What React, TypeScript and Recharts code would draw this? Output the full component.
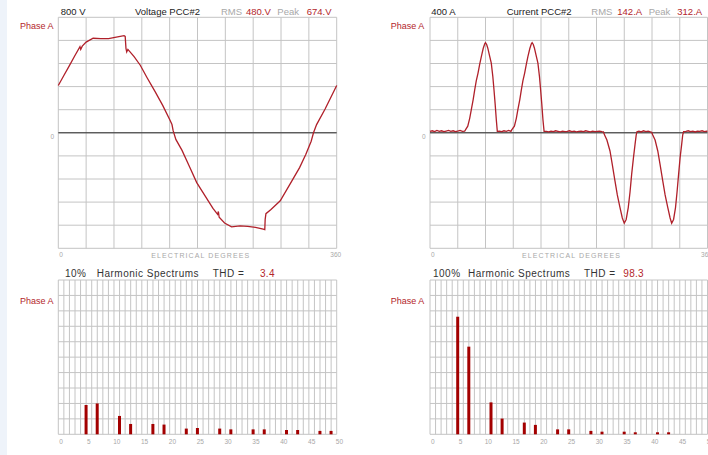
import React from 'react';
import { LineChart, Line, BarChart, Bar, XAxis, YAxis, CartesianGrid, ReferenceLine } from 'recharts';

const FONT = "'Liberation Sans', Arial, Helvetica, sans-serif";
const RED_TEXT = '#b3262b';
const GRAY_TEXT = '#a8a8a8';
const DARK_TEXT = '#222222';
const GRID = '#c4c4c4';
const WAVE = '#b0202a';
const BAR = '#a30000';

// ---- waveform data ----
const voltageDegrees = [0, 7, 14, 21, 28, 29, 31, 36, 45, 55, 65, 75, 85, 86.5, 87.5, 88.5, 90, 98, 106, 115, 125, 135, 144, 147, 148.5, 152, 160, 170, 179, 190, 200, 206, 207, 208, 215, 224, 235, 245, 255, 265, 267, 267.5, 268.5, 275, 287, 300, 312, 320, 327, 330, 334, 345, 360];
const voltageValues = [328, 395, 462, 530, 597, 578, 600, 628, 655, 652, 652, 662, 673, 668, 585, 560, 578, 528, 468, 380, 287, 190, 92, 57, 15, -46, -122, -239, -345, -438, -524, -565, -545, -585, -625, -651, -645, -648, -655, -667, -670, -600, -560, -531, -471, -352, -241, -150, -58, 0, 57, 165, 328];

const currentDegrees = [
  0, 3, 6, 9, 12, 15, 18, 21, 24, 27, 30, 33, 36, 39, 42, 45,
  46, 49, 51.5, 53.6, 56, 58, 60, 62.3, 64.5, 66.6, 69, 71, 72, 73.5, 75, 77, 79.5, 81.5, 83, 84.5, 86, 87.3,
  90, 93, 96, 99, 102, 105,
  106, 109.5, 112, 114, 116.5, 118.5, 120.5, 122.8, 125, 127, 129.5, 131.5, 132.5, 134, 135.5, 137.5, 140, 142, 143.5, 145, 146.5, 148,
  151, 154, 157, 160, 163, 166, 169, 172, 175, 178, 181, 184, 187, 190, 193, 196, 199, 202, 205, 208, 211, 214, 217, 220, 223,
  225, 226.5, 229.5, 233.5, 236.5, 240, 243, 246.5, 249.5, 252, 254.5, 257.2, 259.5, 261.6, 264, 266, 267.5, 268.5,
  271, 274, 277, 280, 283, 286,
  287.5, 289, 292, 295.5, 298.5, 302, 305, 308.5, 311.5, 313.5, 316, 318.5, 320.5, 322.5, 324.5, 326.5, 327.8, 329,
  332, 335, 338, 341, 344, 347, 350, 353, 356, 359, 360,
];
const currentValues = [
  5, 7, 4, 8, 5, 7, 4, 6, 8, 5, 7, 4, 6, 8, 5, 6,
  10, 23, 50, 80, 115, 149, 180, 207, 238, 264, 292, 308, 312, 306, 293, 270, 241, 195, 149, 100, 46, 5,
  6, 4, 7, 5, 8, 5,
  10, 23, 50, 80, 115, 149, 180, 207, 238, 264, 292, 308, 312, 306, 293, 270, 241, 195, 149, 100, 46, 5,
  5, 3, 6, 4, 7, 5, 3, 6, 4, 5, 7, 4, 6, 3, 5, 6, 4, 7, 5, 3, 6, 4, 5, 6, 4,
  3, -8, -25, -63, -110, -167, -215, -259, -295, -313, -300, -259, -205, -144, -85, -40, -8, 4,
  6, 3, 7, 4, 6, 3,
  2, -8, -25, -63, -110, -167, -215, -259, -295, -313, -300, -259, -205, -144, -85, -40, -8, 4,
  5, 7, 4, 6, 3, 6, 5, 7, 4, 6, 5,
];

// ---- harmonic spectra ----
const harmonicOrders = [5, 7, 11, 13, 17, 19, 23, 25, 29, 31, 35, 37, 41, 43, 47, 49];
const voltageHarmonics = [1.9, 2.0, 1.19, 0.67, 0.67, 0.63, 0.37, 0.41, 0.37, 0.32, 0.32, 0.32, 0.28, 0.28, 0.22, 0.22];
const currentHarmonics = [76.2, 56.8, 20.7, 10.2, 7.6, 6.1, 3.2, 3.2, 2.2, 1.7, 1.7, 1.3, 1.3, 1.3, 0, 0];

// ---- ticks ----
const degreeTicks = [0, 36, 72, 108, 144, 180, 216, 252, 288, 324, 360];
const voltageTicks = [-800, -640, -480, -320, -160, 0, 160, 320, 480, 640, 800];
const currentTicks = [-400, -320, -240, -160, -80, 0, 80, 160, 240, 320, 400];
const harmonicTicks = Array.from({ length: 51 }, (_, i) => i);
const harmonicLabels = [0, 5, 10, 15, 20, 25, 30, 35, 40, 45, 50];
const voltagePctTicks = [0, 1, 2, 3, 4, 5, 6, 7, 8, 9, 10];
const currentPctTicks = [0, 10, 20, 30, 40, 50, 60, 70, 80, 90, 100];

const voltageData = voltageDegrees.map((d, i) => ({ deg: d, v: voltageValues[i] }));
const currentData = currentDegrees.map((d, i) => ({ deg: d, v: currentValues[i] }));
const voltageSpec = harmonicOrders.map((h, i) => ({ h, v: voltageHarmonics[i] }));
const currentSpec = harmonicOrders.map((h, i) => ({ h, v: currentHarmonics[i] }));

const DegTick = (props: any) => {
  const { x, y, payload } = props;
  if (payload.value === 0) {
    return <text x={x + 1} y={y + 8.7} fontSize={6.5} fill={GRAY_TEXT} fontFamily={FONT} textAnchor="start">0</text>;
  }
  if (payload.value === 360) {
    return <text x={x - 1} y={y + 8.7} fontSize={6.5} fill={GRAY_TEXT} fontFamily={FONT} textAnchor="middle">360</text>;
  }
  return <g />;
};

const ZeroTick = (props: any) => {
  const { x, y, payload } = props;
  if (payload.value === 0) {
    return <text x={x - 4.3} y={y + 6} fontSize={6.5} fill={GRAY_TEXT} fontFamily={FONT} textAnchor="end">0</text>;
  }
  return <g />;
};

const EmptyTick = () => <g />;

const makeHarmTick = (cell: number) => (props: any) => {
  const { x, y, payload } = props;
  if (harmonicLabels.includes(payload.value)) {
    return <text x={x + cell / 2} y={y + 10} fontSize={6.5} fill={GRAY_TEXT} fontFamily={FONT} textAnchor="middle">{payload.value}</text>;
  }
  return <g />;
};

function Wave({ left, yAxisW, rightM, data, yDomain, yTicks }: any) {
  return (
    <div style={{ position: 'absolute', left, top: 0, width: 354, height: 262 }}>
      <LineChart width={354} height={262} data={data} margin={{ top: 17.3, right: rightM, bottom: 1.7, left: 0 }}>
        <CartesianGrid stroke={GRID} strokeWidth={1} />
        <XAxis type="number" dataKey="deg" domain={[0, 360]} ticks={degreeTicks} interval={0} tickSize={0} tickMargin={0} axisLine={false} tickLine={false} height={12} tick={DegTick} />
        <YAxis type="number" domain={yDomain} ticks={yTicks} interval={0} width={yAxisW} tickSize={0} tickMargin={0} axisLine={false} tickLine={false} tick={ZeroTick} />
        <ReferenceLine y={0} stroke="#2a2a2a" strokeWidth={1} />
        <Line type="linear" dataKey="v" stroke={WAVE} strokeWidth={1.3} dot={false} isAnimationActive={false} />
      </LineChart>
    </div>
  );
}

function Spectrum({ left, yAxisW, rightM, data, yDomain, yTicks, cell }: any) {
  return (
    <div style={{ position: 'absolute', left, top: 262, width: 354, height: 193 }}>
      <BarChart width={354} height={193} data={data} margin={{ top: 18, right: rightM, bottom: 6.7, left: 0 }}>
        <CartesianGrid stroke={GRID} strokeWidth={1} />
        <XAxis type="number" dataKey="h" domain={[0, 50]} ticks={harmonicTicks} interval={0} tickSize={0} tickMargin={0} axisLine={false} tickLine={false} height={14} tick={makeHarmTick(cell)} />
        <YAxis type="number" domain={yDomain} ticks={yTicks} interval={0} width={yAxisW} tickSize={0} tickMargin={0} axisLine={false} tickLine={false} tick={EmptyTick} />
        <Bar dataKey="v" fill={BAR} barSize={3} isAnimationActive={false} />
      </BarChart>
    </div>
  );
}

export default function App() {
  const t = (x: number, y: number, s: string, fill: string, size: number, extra: any = {}) => (
    <text x={x} y={y} fill={fill} fontSize={size} fontFamily={FONT} {...extra}>{s}</text>
  );
  return (
    <div style={{ position: 'absolute', left: 0, top: 0, width: 708, height: 455, background: '#ffffff', overflow: 'hidden' }}>
      <div style={{ position: 'absolute', left: 0, top: 0, width: 7, height: 455, background: '#eef3fa' }} />
      <Wave left={0} yAxisW={58.3} rightM={17.3} data={voltageData} yDomain={[-800, 800]} yTicks={voltageTicks} />
      <Wave left={354} yAxisW={76} rightM={0.5} data={currentData} yDomain={[-400, 400]} yTicks={currentTicks} />
      <Spectrum left={0} yAxisW={58.3} rightM={17.3} data={voltageSpec} yDomain={[0, 10]} yTicks={voltagePctTicks} cell={278.4 / 50} />
      <Spectrum left={354} yAxisW={76} rightM={0.5} data={currentSpec} yDomain={[0, 100]} yTicks={currentPctTicks} cell={277.5 / 50} />
      <svg width={708} height={455} style={{ position: 'absolute', left: 0, top: 0, pointerEvents: 'none' }}>
        {t(60.7, 14.7, '800 V', DARK_TEXT, 9.5)}
        {t(135, 14.7, 'Voltage PCC#2', DARK_TEXT, 9.5)}
        {t(221, 14.7, 'RMS', GRAY_TEXT, 9.5)}
        {t(246, 14.7, '480.V', RED_TEXT, 9.5)}
        {t(277.3, 14.7, 'Peak', GRAY_TEXT, 9.5)}
        {t(306.7, 14.7, '674.V', RED_TEXT, 9.5)}

        {t(431.3, 14.7, '400 A', DARK_TEXT, 9.5)}
        {t(506.7, 14.7, 'Current PCC#2', DARK_TEXT, 9.5)}
        {t(591.3, 14.7, 'RMS', GRAY_TEXT, 9.5)}
        {t(617.3, 14.7, '142.A', RED_TEXT, 9.5)}
        {t(648.7, 14.7, 'Peak', GRAY_TEXT, 9.5)}
        {t(677.3, 14.7, '312.A', RED_TEXT, 9.5)}

        {t(20, 29.3, 'Phase A', RED_TEXT, 9)}
        {t(390.7, 29.3, 'Phase A', RED_TEXT, 9)}
        {t(20, 303.7, 'Phase A', RED_TEXT, 9)}
        {t(390.7, 303.7, 'Phase A', RED_TEXT, 9)}

        {t(200.8, 257.5, 'ELECTRICAL DEGREES', GRAY_TEXT, 7, { textAnchor: 'middle', letterSpacing: 1.1 })}
        {t(571.5, 257.5, 'ELECTRICAL DEGREES', GRAY_TEXT, 7, { textAnchor: 'middle', letterSpacing: 1.1 })}

        {t(65, 277.3, '10%', '#333333', 10, { letterSpacing: 0.5 })}
        {t(96.7, 277.3, 'Harmonic Spectrums', '#333333', 10, { letterSpacing: 0.5 })}
        {t(212.7, 277.3, 'THD =', '#333333', 10, { letterSpacing: 0.5 })}
        {t(260, 277.3, '3.4', RED_TEXT, 10, { letterSpacing: 0.3 })}

        {t(433, 277.3, '100%', '#333333', 10, { letterSpacing: 0.5 })}
        {t(468, 277.3, 'Harmonic Spectrums', '#333333', 10, { letterSpacing: 0.5 })}
        {t(584, 277.3, 'THD =', '#333333', 10, { letterSpacing: 0.5 })}
        {t(623.3, 277.3, '98.3', RED_TEXT, 10, { letterSpacing: 0.3 })}
      </svg>
    </div>
  );
}
